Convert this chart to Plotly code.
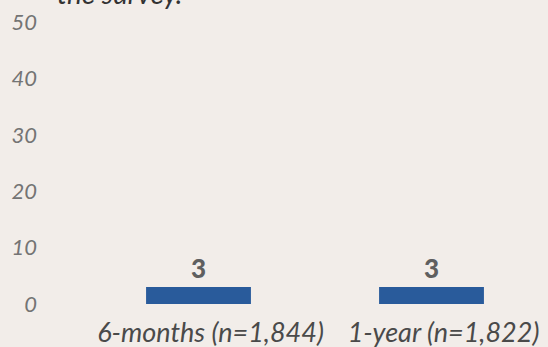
import plotly.graph_objects as go

categories = ["6-months (n=1,844)", "1-year (n=1,822)"]
values = [3, 3]
tick_vals = [0, 10, 20, 30, 40, 50]
tick_text = ["0", "10", "20", "30", "40", "50"]
title_tail = "the survey."

bg = "#F2EDE9"
fig = go.Figure()
fig.add_trace(go.Bar(
    x=categories, y=values, width=0.45,
    marker=dict(color="#295B9B", line=dict(width=0)),
    text=[str(v) for v in values], textposition="outside",
    textfont=dict(family="Lato", size=26, color="#5F5F5F", weight=900),
    cliponaxis=False,
))
fig.update_layout(
    width=548, height=347,
    margin=dict(l=82, r=0, t=22, b=43),
    paper_bgcolor=bg, plot_bgcolor=bg,
    showlegend=False,
    xaxis=dict(showgrid=False, showline=False, zeroline=False,
               tickfont=dict(family="Lato", size=27, color="#4A4A4A", style="italic"),
               ticklabelstandoff=10, ticklabelshift=12),
    yaxis=dict(range=[0, 50], tickvals=tick_vals, ticktext=tick_text,
               showgrid=False, showline=False, zeroline=False,
               tickfont=dict(family="Lato", size=22, color="#747474", style="italic"),
               ticklabelstandoff=44),
    annotations=[dict(text=title_tail, xref="paper", yref="paper",
                      x=-0.058, y=1.035, xanchor="left", yanchor="bottom",
                      showarrow=False,
                      font=dict(family="Lato", size=28, color="#333333", style="italic"))],
)
fig.write_html("out.html")
